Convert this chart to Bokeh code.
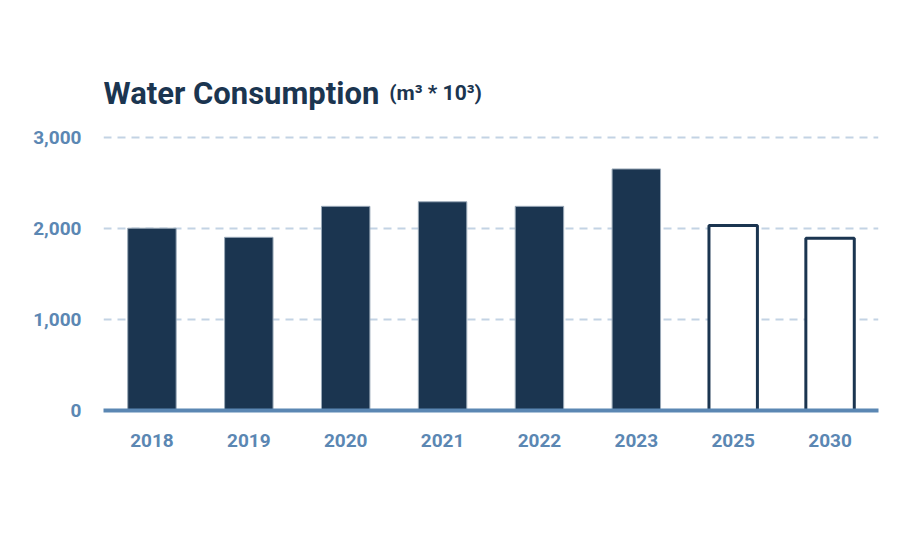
from bokeh.plotting import figure
from bokeh.models import ColumnDataSource, Label, Range1d, FixedTicker, NumeralTickFormatter
from bokeh.embed import file_html
from bokeh.resources import INLINE

years = ["2018", "2019", "2020", "2021", "2022", "2023", "2025", "2030"]
actual = [2000, 1900, 2240, 2290, 2240, 2650, None, None]
target = [None, None, None, None, None, None, 2030, 1890]
y_ticks = [0, 1000, 2000, 3000]

navy = "#1b3550"
steel = "#5b87b3"

p = figure(x_range=years, width=892, height=541, output_backend="svg",
           toolbar_location=None, min_border_left=103, min_border_right=14,
           min_border_top=60, min_border_bottom=131)
p.y_range = Range1d(0, 3840)

a_x = [y for y, v in zip(years, actual) if v is not None]
a_v = [v for v in actual if v is not None]
t_x = [y for y, v in zip(years, target) if v is not None]
t_v = [v for v in target if v is not None]

p.vbar(x=a_x, top=a_v, width=0.5, fill_color=navy, line_color="#9aa9b8", line_width=1)
p.vbar(x=t_x, top=t_v, width=0.5, fill_color="white", line_color=navy, line_width=3)

p.outline_line_color = None
p.xgrid.grid_line_color = None
p.ygrid.grid_line_color = "#c3d3e4"
p.ygrid.grid_line_width = 2
p.ygrid.grid_line_dash = "8 6"
p.yaxis.ticker = FixedTicker(ticks=y_ticks)
p.yaxis.formatter = NumeralTickFormatter(format="0,0")
p.yaxis.axis_line_color = None
p.yaxis.major_tick_line_color = None
p.yaxis.minor_tick_line_color = None
p.xaxis.axis_line_color = steel
p.xaxis.axis_line_width = 4
p.xaxis.major_tick_line_color = None
p.xaxis.minor_tick_line_color = None
for ax in (p.xaxis, p.yaxis):
    ax.major_label_text_color = steel
    ax.major_label_text_font = "Roboto"
    ax.major_label_text_font_style = "bold"
    ax.major_label_text_font_size = "19px"
p.xaxis.major_label_standoff = 17
p.yaxis.major_label_standoff = 16

p.add_layout(Label(x=0.0, y=3480,
                   text="Water Consumption", text_font="Roboto", text_font_style="bold",
                   text_font_size="31px", text_color=navy, text_baseline="alphabetic"))
p.add_layout(Label(x=2.95, y=3480,
                   text="(m³ * 10³)", text_font="Roboto", text_font_style="bold",
                   text_font_size="21px", text_color=navy, text_baseline="alphabetic"))

open("out.html", "w").write(file_html(p, INLINE))
